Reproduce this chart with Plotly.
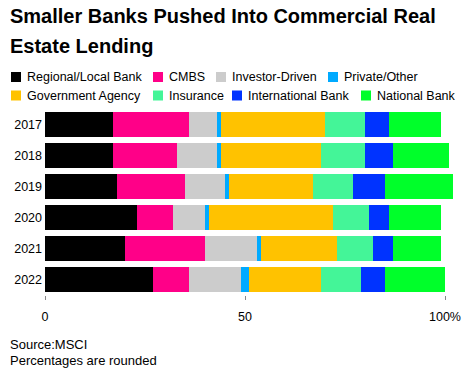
import plotly.graph_objects as go

years = ["2017", "2018", "2019", "2020", "2021", "2022"]
series_names = ["Regional/Local Bank", "CMBS", "Investor-Driven", "Private/Other",
                "Government Agency", "Insurance", "International Bank", "National Bank"]
regional = [17, 17, 18, 23, 20, 27]
cmbs = [19, 16, 17, 9, 20, 9]
investor = [7, 10, 10, 8, 13, 13]
private = [1, 1, 1, 1, 1, 2]
government = [26, 25, 21, 31, 19, 18]
insurance = [10, 11, 10, 9, 9, 10]
international = [6, 7, 8, 5, 5, 6]
national = [13, 14, 17, 13, 12, 15]
series_values = [regional, cmbs, investor, private, government, insurance, international, national]
colors = ["#000000", "#ff0088", "#cccccc", "#00aaff", "#ffc200", "#44f598", "#0033ff", "#00ff2a"]

x_tickvals = [0, 50, 100]
x_ticktext = ["0", "50", "100%"]

title_lines = ["Smaller Banks Pushed Into Commercial Real", "Estate Lending"]
notes = ["Source:MSCI", "Percentages are rounded"]

W, H = 476, 375
L, R, T, B = 45, 19, 109, 80
PW, PH = W - L - R, H - T - B
FONT = "Liberation Sans, Arial, sans-serif"


def px(x):
    return (x - L) / PW


def py(y):
    return (H - B - y) / PH


fig = go.Figure()
for name, vals, col in zip(series_names, series_values, colors):
    fig.add_trace(go.Bar(
        y=years, x=vals, name=name, orientation="h",
        marker=dict(color=col, line=dict(width=0)),
        showlegend=False,
        hovertemplate="%{y}: %{x}%<extra>" + name + "</extra>",
    ))

# custom legend (flowing layout like the reference)
legend_rows = [[0, 1, 2, 3], [4, 5, 6, 7]]
legend_x = [[11, 153, 216, 328], [11, 153, 232, 361]]
legend_y = [77, 95.5]
shapes = []
annotations = []
for row, xs, yc in zip(legend_rows, legend_x, legend_y):
    for idx, x0 in zip(row, xs):
        shapes.append(dict(type="rect", xref="paper", yref="paper",
                           x0=px(x0), x1=px(x0 + 10), y0=py(yc + 5), y1=py(yc - 5),
                           fillcolor=colors[idx], line=dict(width=0)))
        annotations.append(dict(text=series_names[idx], xref="paper", yref="paper",
                                x=px(x0 + 14), y=py(yc), xanchor="left", yanchor="middle",
                                showarrow=False, font=dict(family=FONT, size=12.5, color="#000")))

for txt, ytop in zip(title_lines, [3, 33]):
    annotations.append(dict(text="<b>" + txt + "</b>", xref="paper", yref="paper",
                            x=px(8), y=py(ytop), xanchor="left", yanchor="top", showarrow=False,
                            font=dict(family=FONT, size=20, color="#000")))

for txt, ytop in zip(notes, [335, 351]):
    annotations.append(dict(text=txt, xref="paper", yref="paper",
                            x=px(8), y=py(ytop), xanchor="left", yanchor="top", showarrow=False,
                            font=dict(family=FONT, size=13, color="#000")))

fig.update_layout(
    width=W, height=H,
    margin=dict(l=L, r=R, t=T, b=B, pad=0),
    barmode="stack", bargap=0.2,
    paper_bgcolor="white", plot_bgcolor="white",
    shapes=shapes, annotations=annotations,
    xaxis=dict(range=[0, 103], tickvals=x_tickvals, ticktext=x_ticktext,
               ticks="outside", ticklen=4, tickcolor="#888", tickwidth=1,
               showgrid=False, zeroline=False, showline=False,
               tickfont=dict(family=FONT, size=12.5, color="#000"),
               ticklabelstandoff=6, fixedrange=True),
    yaxis=dict(autorange="reversed", ticks="", showgrid=False, zeroline=False,
               showline=False, tickfont=dict(family=FONT, size=12.5, color="#000"),
               ticklabelstandoff=2, fixedrange=True),
)

fig.write_html("out.html", config={"displayModeBar": False},
               post_script="document.body.style.margin='0';")
